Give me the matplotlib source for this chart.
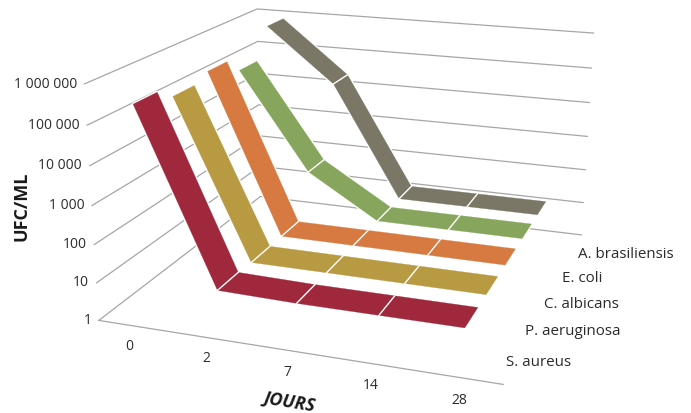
import numpy as np
import matplotlib
matplotlib.use('Agg')
import matplotlib.pyplot as plt
from mpl_toolkits.mplot3d import proj3d
from mpl_toolkits.mplot3d.art3d import Poly3DCollection

W, H = 691, 414

jours = ['0', '2', '7', '14', '28']
souches = ['S. aureus', 'P. aeruginosa', 'C. albicans', 'E. coli', 'A. brasiliensis']
graduations = ['1', '10', '100', '1 000', '10 000', '100 000', '1 000 000']

s_aureus = [320000, 12, 11, 11, 11]
p_aeruginosa = [160000, 11, 11, 11, 11]
c_albicans = [250000, 11, 11, 11, 11]
e_coli = [95000, 175, 11, 11, 11]
a_brasiliensis = [700000, 20000, 11, 11, 11]
comptages = [s_aureus, p_aeruginosa, c_albicans, e_coli, a_brasiliensis]

couleurs = ['#A0283C', '#B89A42', '#D67A41', '#87A55C', '#7B7766']
DEMI_LARGEUR = 0.3
ENCRE = '#2B2B2B'
GRILLE = '#A6A6A6'

plt.rcParams['font.family'] = ['Open Sans', 'DejaVu Sans']

fig = plt.figure(figsize=(W / 100, H / 100), dpi=100)
# carre de 574 px centre sur (353.5, 176.7)
COTE = 574.43
ax = fig.add_axes([(353.53 - COTE / 2) / W, 1 - (176.72 + COTE / 2) / H, COTE / W, COTE / H],
                  projection='3d', computed_zorder=False)
ax.set_xticks([])
ax.set_yticks([])
ax.set_zticks([])
ax.set_xlim(0, 5)
ax.set_ylim(0, 5)
ax.set_zlim(0, 6)
ax.view_init(17.538, -71.157, -0.38119)
ax.set_proj_type('persp', focal_length=0.4181)
ax.set_box_aspect((1.0087, 1, 0.59403))
ax.set_axis_off()


def etiquette(x, y, z, texte, **kw):
    # pose un texte horizontal au point 3D projete
    xp, yp, _ = proj3d.proj_transform(x, y, z, ax.get_proj())
    ax.text2D(xp, yp, texte, transform=ax.transData, va='center', color=ENCRE, **kw)


# grille : paroi gauche puis paroi du fond, une ligne par decade
for z in range(len(graduations)):
    ax.plot([0, 0, 5], [0, 5, 5], [z, z, z], color=GRILLE, lw=0.9, zorder=1)
ax.plot([0, 5], [0, 0], [0, 0], color=GRILLE, lw=0.9, zorder=1)

# rubans, du plus lointain au plus proche
for k in reversed(range(len(souches))):
    z = np.log10(comptages[k])
    y0, y1 = k + 0.5 - DEMI_LARGEUR, k + 0.5 + DEMI_LARGEUR
    polys = []
    for i in range(len(jours) - 1):
        polys.append([(i + 0.5, y0, z[i]), (i + 1.5, y0, z[i + 1]),
                      (i + 1.5, y1, z[i + 1]), (i + 0.5, y1, z[i])])
    base = 10 + 2 * (len(souches) - k)
    ax.add_collection3d(Poly3DCollection(polys, facecolor='white', edgecolor='white',
                                         linewidth=2.2, zorder=base))
    ax.add_collection3d(Poly3DCollection(polys, facecolor=couleurs[k], edgecolor=couleurs[k],
                                         linewidth=0.2, zorder=base + 0.5))
    for i in range(1, len(jours) - 1):
        ax.plot([i + 0.5, i + 0.5], [y0, y1], [z[i], z[i]], color='white', lw=1.0, zorder=base + 1)

for z, lab in enumerate(graduations):
    etiquette(-0.1, 0, z, lab, ha='right', fontsize=10)
for i, lab in enumerate(jours):
    etiquette(i + 0.6, -0.36, -0.15, lab, ha='center', fontsize=10)

# noms des souches, poses a la main le long du bord droit
pos_souches = [(506, 363), (525, 332), (544, 305), (562, 279), (578, 255)]
for (px, py), lab in zip(pos_souches, souches):
    fig.text(px / W, 1 - py / H, lab, ha='left', va='center', fontsize=10.9, color=ENCRE)

fig.text(21 / W, 1 - 206 / H, 'UFC/ML', rotation=90, ha='center', va='center',
         fontsize=13, fontweight='bold', color='#1A1A1A')
fig.text(290 / W, 1 - 402 / H, 'JOURS', rotation=-9, ha='center', va='center',
         fontsize=13, fontweight='bold', fontstyle='italic', color='#1A1A1A')

fig.savefig('out.png', dpi=100)
